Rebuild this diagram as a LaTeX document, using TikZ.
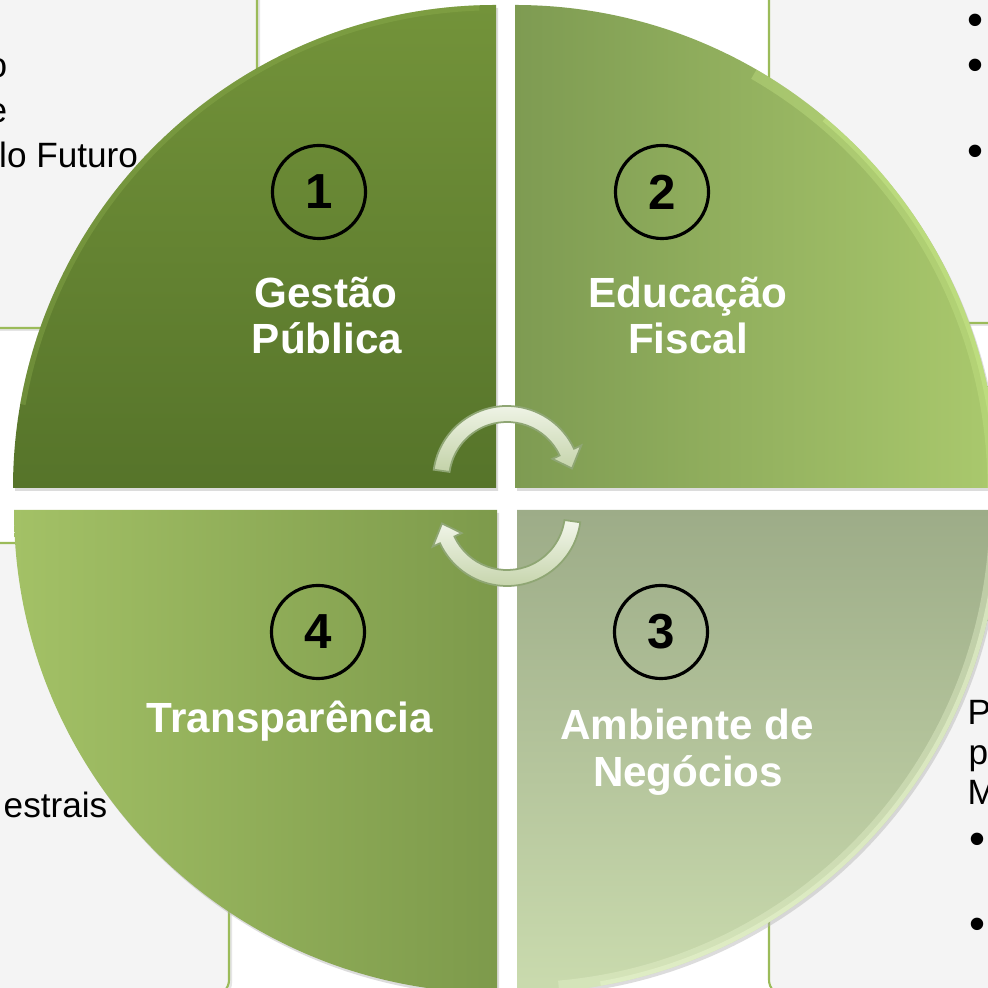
\documentclass[tikz,border=0pt]{standalone}
\usepackage{fontspec}
\setmainfont{Liberation Sans}
\usetikzlibrary{calc}
\definecolor{boxfill}{HTML}{F4F4F4}
\definecolor{boxline}{HTML}{9BBB59}
\definecolor{qat}{HTML}{73933A}
\definecolor{qab}{HTML}{56742A}
\definecolor{qbl}{HTML}{7E9B52}
\definecolor{qbr}{HTML}{AAC96D}
\definecolor{qct}{HTML}{9DAC88}
\definecolor{qcb}{HTML}{CADBAE}
\definecolor{qdl}{HTML}{A3C166}
\definecolor{qdr}{HTML}{7D9A4B}
\definecolor{rima}{HTML}{90B250}
\definecolor{rimb}{HTML}{C8E888}
\definecolor{rimc}{HTML}{E6F3CC}
\definecolor{arrtop}{HTML}{F2F6EA}
\definecolor{arrbot}{HTML}{C3D2A8}
\definecolor{arrline}{HTML}{8FA674}
\begin{document}
\begin{tikzpicture}[x=0.01cm,y=0.01cm,
  infobox/.style={fill=boxfill, draw=boxline, line width=0.6pt, rounded corners=0.15cm},
  boxshadow/.style={fill=black!10, rounded corners=0.15cm},
  boxtext/.style={font=\fontsize{10}{12.8}\selectfont, text=black, inner sep=0},
  bullettext/.style={font=\fontsize{13}{14}\selectfont, text=black, inner sep=0, anchor=base},
  numcirc/.style={circle, draw=black, line width=0.9pt, minimum size=0.93cm, inner sep=0,
                  font=\fontsize{14}{16}\selectfont\bfseries, text=black},
  qlabel/.style={font=\fontsize{12}{14}\selectfont\bfseries, text=white, inner sep=0, anchor=base},
  qshadow/.style={fill=black!30, opacity=0.45},
  cyclearrow/.style={top color=arrtop, bottom color=arrbot, draw=arrline, line width=0.5pt}]
\useasboundingbox (0,0) rectangle (987,988);
\fill[white] (0,0) rectangle (987,988);

% side boxes
\fill[boxshadow] (-37,657) rectangle (260,1030);
\draw[infobox] (-40,660) rectangle (257,1030);
\fill[boxshadow] (772,662) rectangle (1033,1030);
\draw[infobox] (769,665) rectangle (1030,1030);
\fill[boxshadow] (-37,-10) rectangle (232,442);
\draw[infobox] (-40,-7) rectangle (229,445);
\fill[boxshadow] (772,-10) rectangle (1033,442);
\draw[infobox] (769,-7) rectangle (1030,445);

% box texts
\node[boxtext, anchor=base east] (ta) at (8,910) {o};
\node[boxtext, anchor=base east] (tb) at (8,865) {e};
\node[boxtext, anchor=base west] (tc) at (-1.5,820) {lo Futuro};
\node[boxtext, anchor=base east] (td) at (108,170) {estrais};
\node[boxtext, anchor=base west] (te) at (967,263) {P};
\node[boxtext, anchor=base west] (tf) at (968,223) {p};
\node[boxtext, anchor=base west] (tg) at (967,183) {M};
\node[bullettext] (b1) at (975,952) {•};
\node[bullettext] (b2) at (975,907) {•};
\node[bullettext] (b3) at (975,821) {•};
\node[bullettext] (b4) at (977,133) {•};
\node[bullettext] (b5) at (977,48) {•};

% quadrant corners
\coordinate (c1) at (496,500);
\coordinate (c2) at (515,500);
\coordinate (c3) at (517,478);
\coordinate (c4) at (497,478);

% shadows
\fill[qshadow] ($(c1)+(2,-3)$) -- ++(-483,0) arc (180:90:483) -- cycle;
\fill[qshadow] ($(c2)+(2,-3)$) -- ++(0,483) arc (90:0:483) -- cycle;
\fill[qshadow] ($(c3)+(2,-3)$) -- ++(483,0) arc (0:-90:483) -- cycle;
\fill[qshadow] ($(c4)+(2,-3)$) -- ++(0,-483) arc (270:180:483) -- cycle;

% quadrants
\shade[top color=qat, bottom color=qab] (c1) -- ++(-483,0) arc (180:90:483) -- cycle;
\shade[left color=qbl, right color=qbr] (c2) -- ++(0,483) arc (90:0:483) -- cycle;
\shade[top color=qct, bottom color=qcb] (c3) -- ++(483,0) arc (0:-90:483) -- cycle;
\shade[left color=qdl, right color=qdr] (c4) -- ++(0,-483) arc (270:180:483) -- cycle;

% rim highlights (soft)
\begin{scope}
  \clip (c1) -- ++(-483,0) arc (180:90:483) -- cycle;
  \draw[rima, opacity=0.35, line width=3pt] ($(c1)+(170:483)$) arc (170:92:483);
\end{scope}
\begin{scope}
  \clip (c2) -- ++(0,483) arc (90:0:483) -- cycle;
  \draw[rimb, opacity=0.35, line width=6pt] ($(c2)+(60:483)$) arc (60:0:483);
  \draw[rimb, opacity=0.5, line width=2.5pt] ($(c2)+(50:483)$) arc (50:0:483);
\end{scope}
\begin{scope}
  \clip (c3) -- ++(483,0) arc (0:-90:483) -- cycle;
  \draw[rimc, opacity=0.4, line width=6pt] ($(c3)+(0:483)$) arc (0:-85:483);
  \draw[rimc, opacity=0.6, line width=2.5pt] ($(c3)+(-5:483)$) arc (-5:-80:483);
\end{scope}

% cycle arrows
\coordinate (ca) at (507,508);
\coordinate (cb) at (507,476);
\shadedraw[cyclearrow] ($(ca)+(172:74)$) arc (172:25:74) -- ($(ca)+(25:82)$)
  -- ($(ca)+(10:66)$) -- ($(ca)+(25:50)$) -- ($(ca)+(25:58)$) arc (25:172:58) -- cycle;
\shadedraw[cyclearrow] ($(cb)+(-8:74)$) arc (-8:-155:74) -- ($(cb)+(-155:82)$)
  -- ($(cb)+(-170:66)$) -- ($(cb)+(-155:50)$) -- ($(cb)+(-155:58)$) arc (-155:-8:58) -- cycle;

% number circles
\node[numcirc] (n1) at (319,796) {1};
\node[numcirc] (n2) at (662,796) {2};
\node[numcirc] (n3) at (661,356) {3};
\node[numcirc] (n4) at (318,356) {4};

% labels
\node[qlabel] (l1a) at (326,680) {Gestão};
\node[qlabel] (l1b) at (327,634) {Pública};
\node[qlabel] (l2a) at (688,680) {Educação};
\node[qlabel] (l2b) at (688,634) {Fiscal};
\node[qlabel] (l3a) at (687,248) {Ambiente de};
\node[qlabel] (l3b) at (688,201) {Negócios};
\node[qlabel] (l4a) at (290,255) {Transparência};
\end{tikzpicture}
\end{document}
